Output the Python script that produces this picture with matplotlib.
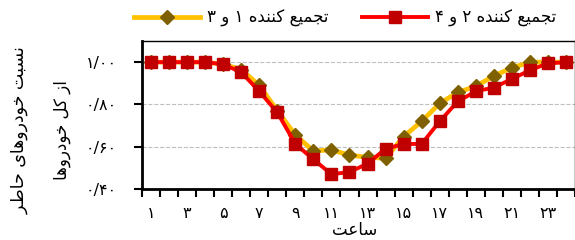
import numpy as np
import matplotlib
matplotlib.use('Agg')
import matplotlib.pyplot as plt
from matplotlib.ticker import FixedLocator, FuncFormatter

plt.rcParams['font.family'] = ['DejaVu Sans']

# داده‌ها
hours = list(range(1, 25))
agg_13 = [1.00, 1.00, 1.00, 1.00, 0.99, 0.965, 0.89, 0.77, 0.655, 0.58, 0.585, 0.56,
          0.55, 0.545, 0.648, 0.72, 0.805, 0.857, 0.886, 0.935, 0.973, 1.00, 1.00, 1.00]
agg_24 = [1.00, 1.00, 1.00, 1.00, 0.99, 0.952, 0.862, 0.762, 0.613, 0.54, 0.47, 0.48,
          0.52, 0.59, 0.613, 0.613, 0.72, 0.814, 0.862, 0.88, 0.92, 0.962, 0.994, 1.00]
y_ticks = [0.40, 0.60, 0.80, 1.00]
x_label_hours = list(range(1, 24, 2))

label_13 = 'تجمیع کننده ۱ و ۳'
label_24 = 'تجمیع کننده ۲ و ۴'
ylabel_1 = 'نسبت خودروهای حاضر'
ylabel_2 = 'از کل خودروها'
xlabel = 'ساعت'

# شکل‌دهی ساده حروف فارسی (isolated, final, initial, medial)
FORMS = {
    'ا': ('\uFE8D', '\uFE8E', None, None),
    'ب': ('\uFE8F', '\uFE90', '\uFE91', '\uFE92'),
    'ت': ('\uFE95', '\uFE96', '\uFE97', '\uFE98'),
    'ج': ('\uFE9D', '\uFE9E', '\uFE9F', '\uFEA0'),
    'ح': ('\uFEA1', '\uFEA2', '\uFEA3', '\uFEA4'),
    'خ': ('\uFEA5', '\uFEA6', '\uFEA7', '\uFEA8'),
    'د': ('\uFEA9', '\uFEAA', None, None),
    'ر': ('\uFEAD', '\uFEAE', None, None),
    'ز': ('\uFEAF', '\uFEB0', None, None),
    'س': ('\uFEB1', '\uFEB2', '\uFEB3', '\uFEB4'),
    'ض': ('\uFEBF', '\uFEC0', '\uFEC1', '\uFEC2'),
    'ع': ('\uFEC9', '\uFECA', '\uFECB', '\uFECC'),
    'ل': ('\uFEDD', '\uFEDE', '\uFEDF', '\uFEE0'),
    'م': ('\uFEE1', '\uFEE2', '\uFEE3', '\uFEE4'),
    'ن': ('\uFEE5', '\uFEE6', '\uFEE7', '\uFEE8'),
    'ه': ('\uFEE9', '\uFEEA', '\uFEEB', '\uFEEC'),
    'و': ('\uFEED', '\uFEEE', None, None),
    'ی': ('\uFBFC', '\uFBFD', '\uFBFE', '\uFBFF'),
    'ک': ('\uFB8E', '\uFB8F', '\uFB90', '\uFB91'),
}


def fa(text):
    out = []
    for i, c in enumerate(text):
        if c not in FORMS:
            out.append(c)
            continue
        prev = text[i - 1] if i > 0 else ''
        nxt = text[i + 1] if i + 1 < len(text) else ''
        j_prev = prev in FORMS and FORMS[prev][2] is not None
        j_next = FORMS[c][2] is not None and nxt in FORMS
        if j_prev and j_next:
            out.append(FORMS[c][3])
        elif j_prev:
            out.append(FORMS[c][1])
        elif j_next:
            out.append(FORMS[c][2])
        else:
            out.append(FORMS[c][0])
    return ''.join(reversed(out))


FA_DIGITS = str.maketrans('0123456789', '۰۱۲۳۴۵۶۷۸۹')


def fa_num(v):
    return f'{v:.2f}'.replace('.', '/').translate(FA_DIGITS)


fig = plt.figure(figsize=(5.75, 2.4), dpi=100)
ax = fig.add_axes([142 / 575, 51 / 240, 433 / 575, 148 / 240])

ax.plot(hours, agg_13, color='#FFC000', linewidth=3.4, marker='D', markersize=7.5,
        markerfacecolor='#7F6000', markeredgecolor='#7F6000', label=fa(label_13), zorder=3)
ax.plot(hours, agg_24, color='#FF0000', linewidth=2.8, marker='s', markersize=8,
        markerfacecolor='#C00000', markeredgecolor='#C00000', label=fa(label_24), zorder=4)

ax.set_xlim(0.5, 24.5)
ax.set_ylim(0.4, 1.1)
ax.set_yticks(y_ticks)
ax.yaxis.set_major_formatter(FuncFormatter(lambda v, p: fa_num(v)))
ax.xaxis.set_major_locator(FixedLocator(x_label_hours))
ax.xaxis.set_major_formatter(FuncFormatter(lambda v, p: str(int(round(v))).translate(FA_DIGITS)))
ax.xaxis.set_minor_locator(FixedLocator(np.arange(0.5, 25, 1)))
ax.tick_params(axis='x', which='major', length=0, pad=12, labelsize=11.5)
ax.tick_params(axis='x', which='minor', length=6, width=1.5, direction='out')
ax.tick_params(axis='y', length=6, width=1.5, pad=12, labelsize=11.5)

ax.grid(axis='y', color='#BFBFBF', linestyle='--', linewidth=0.8)
for g, v in zip(ax.get_ygridlines(), y_ticks):
    if v == 0.40:
        g.set_visible(False)

ax.spines['left'].set_linewidth(2)
ax.spines['bottom'].set_linewidth(2)
ax.spines['top'].set_linewidth(1)
ax.spines['right'].set_linewidth(1)

ax.set_xlabel(fa(xlabel), fontsize=12, va='center')
ax.xaxis.set_label_coords(0.49, -0.275)

fig.text(20 / 575, 0.46, fa(ylabel_1), rotation=90, ha='center', va='center', fontsize=12.5)
fig.text(62 / 575, 0.46, fa(ylabel_2), rotation=90, ha='center', va='center', fontsize=12)

fig.legend(loc='center', bbox_to_anchor=(0.6, 0.925), ncol=2, frameon=False,
           fontsize=12, handlelength=4, columnspacing=2.0, handletextpad=0.4)

fig.savefig('out.png', dpi=100)
